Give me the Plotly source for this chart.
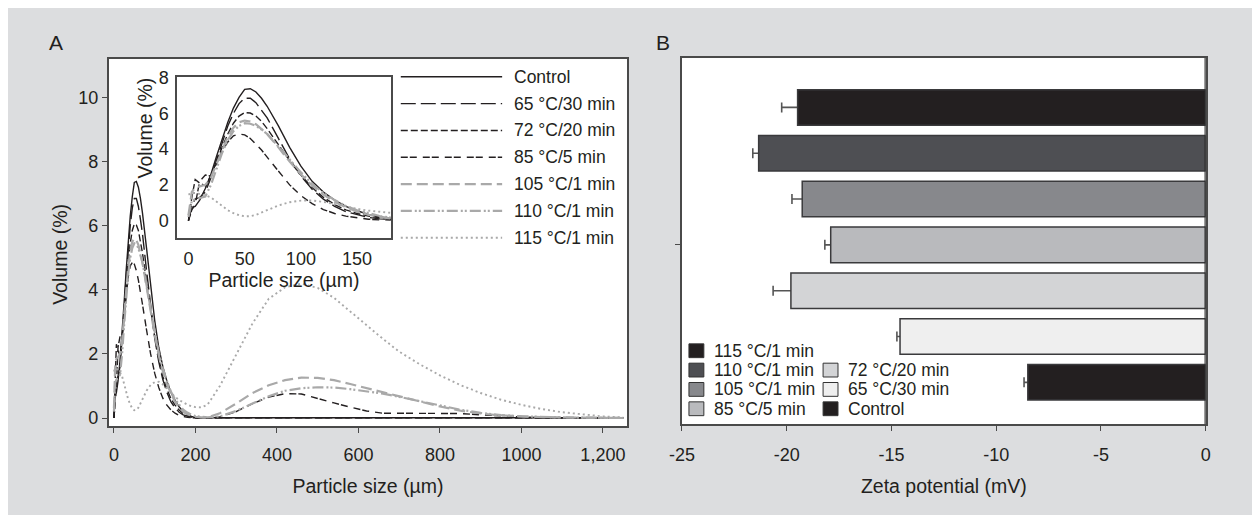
import plotly.graph_objects as go

W, H = 1260, 515
PAGE_OFFSET = 8  # the page puts the figure 8 px from the top-left corner


def fx(px):
    # page x position (px) -> paper fraction, with a small calibration of the page placement
    m = (px - 10.86) / 0.992
    return (m - PAGE_OFFSET) / W


def fy(py):
    m = (py - 6.46) / 0.992
    return 1 - (m - PAGE_OFFSET) / H


# ---------------- Panel A data (volume %) ----------------
size_um = [0, 3, 6, 10, 15, 20, 25, 30, 35, 40, 45, 50, 55, 60, 65, 70, 80, 90, 100, 110,
           120, 130, 140, 150, 160, 170, 180, 190, 200, 215, 230, 260, 300, 340, 380, 420,
           460, 500, 540, 580, 620, 660, 700, 750, 800, 850, 900, 950, 1000, 1050, 1100,
           1150, 1200, 1250]

vol_control = [0.0, 0.75, 0.8, 1.15, 1.8, 2.6, 3.6, 4.6, 5.5, 6.3, 6.9, 7.35, 7.38, 7.2, 6.85,
               6.4, 5.3, 4.1, 3.05, 2.2, 1.6, 1.15, 0.8, 0.55, 0.35, 0.2, 0.12, 0.05, 0.02,
               0.01, 0.01, 0.01, 0.01, 0.01, 0.01, 0.01, 0.01, 0.01, 0.01, 0.01, 0.01, 0.01,
               0.01, 0.01, 0.01, 0.01, 0.01, 0.01, 0.01, 0.01, 0.01, 0.01, 0.01, 0.01]

vol_65_30 = [0.0, 0.9, 1.2, 1.3, 1.6, 2.4, 3.4, 4.4, 5.3, 6.0, 6.55, 6.85, 6.85, 6.6, 6.2,
             5.75, 4.6, 3.45, 2.5, 1.75, 1.2, 0.8, 0.5, 0.32, 0.18, 0.1, 0.05, 0.02, 0.01,
             0.01, 0.01, 0.01, 0.01, 0.01, 0.01, 0.01, 0.01, 0.01, 0.01, 0.01, 0.01, 0.01,
             0.01, 0.01, 0.01, 0.01, 0.01, 0.01, 0.01, 0.01, 0.01, 0.01, 0.01, 0.01]

vol_72_20 = [0.0, 1.3, 2.3, 2.1, 1.95, 2.5, 3.35, 4.15, 4.85, 5.45, 5.85, 6.05, 6.02, 5.85,
             5.55, 5.15, 4.25, 3.35, 2.55, 1.85, 1.3, 0.9, 0.6, 0.4, 0.25, 0.14, 0.07, 0.03,
             0.01, 0.01, 0.01, 0.01, 0.01, 0.01, 0.01, 0.01, 0.01, 0.01, 0.01, 0.01, 0.01,
             0.01, 0.01, 0.01, 0.01, 0.01, 0.01, 0.01, 0.01, 0.01, 0.01, 0.01, 0.01, 0.01]

vol_85_5 = [0.0, 0.6, 0.9, 2.2, 2.55, 2.5, 3.2, 3.9, 4.4, 4.75, 4.85, 4.8, 4.6, 4.3, 3.95,
            3.55, 2.75, 2.0, 1.4, 0.95, 0.62, 0.4, 0.25, 0.15, 0.08, 0.04, 0.02, 0.01, 0.0,
            0.0, 0.0, 0.03, 0.2, 0.45, 0.65, 0.76, 0.75, 0.6, 0.47, 0.34, 0.22, 0.15, 0.15,
            0.15, 0.15, 0.14, 0.1, 0.06, 0.03, 0.01, 0.0, 0.0, 0.0, 0.0]

vol_105_1 = [0.3, 1.6, 1.85, 1.9, 2.0, 2.4, 3.2, 4.0, 4.7, 5.2, 5.5, 5.6, 5.55, 5.4, 5.15,
             4.85, 4.1, 3.3, 2.6, 1.95, 1.45, 1.05, 0.75, 0.5, 0.33, 0.2, 0.12, 0.07, 0.04,
             0.02, 0.02, 0.15, 0.45, 0.78, 1.02, 1.18, 1.26, 1.25, 1.18, 1.06, 0.93, 0.8,
             0.68, 0.53, 0.36, 0.23, 0.14, 0.08, 0.05, 0.03, 0.02, 0.01, 0.01, 0.0]

vol_110_1 = [0.2, 1.1, 1.2, 1.25, 1.35, 2.0, 2.9, 3.8, 4.5, 5.0, 5.3, 5.45, 5.42, 5.3, 5.1,
             4.85, 4.15, 3.4, 2.7, 2.05, 1.55, 1.15, 0.82, 0.58, 0.4, 0.26, 0.17, 0.1, 0.06,
             0.03, 0.02, 0.05, 0.22, 0.45, 0.68, 0.85, 0.93, 0.96, 0.95, 0.9, 0.84, 0.76,
             0.66, 0.53, 0.39, 0.26, 0.16, 0.09, 0.05, 0.03, 0.02, 0.01, 0.01, 0.0]

vol_115_1 = [1.45, 1.55, 1.55, 1.5, 1.42, 1.3, 1.05, 0.8, 0.58, 0.42, 0.3, 0.24, 0.25, 0.32,
             0.45, 0.6, 0.85, 1.03, 1.12, 1.13, 1.05, 0.92, 0.78, 0.66, 0.56, 0.48, 0.42,
             0.37, 0.34, 0.33, 0.42, 1.0, 2.0, 2.95, 3.72, 4.08, 4.19, 4.06, 3.75, 3.32,
             2.87, 2.47, 2.07, 1.68, 1.33, 1.03, 0.78, 0.57, 0.41, 0.28, 0.18, 0.11, 0.05,
             0.02]

series_names = ["Control", "65 °C/30 min", "72 °C/20 min", "85 °C/5 min",
                "105 °C/1 min", "110 °C/1 min", "115 °C/1 min"]
series_values = [vol_control, vol_65_30, vol_72_20, vol_85_5, vol_105_1, vol_110_1, vol_115_1]

x_ticks_a = [0, 200, 400, 600, 800, 1000, 1200]
x_ticktext_a = ["0", "200", "400", "600", "800", "1000", "1,200"]
y_ticks_a = [0, 2, 4, 6, 8, 10]
inset_x_ticks = [0, 50, 100, 150]
inset_y_ticks = [0, 2, 4, 6, 8]

# ---------------- Panel B data (zeta potential, mV) ----------------
treatments = ["Control", "65 °C/30 min", "72 °C/20 min", "85 °C/5 min",
              "105 °C/1 min", "110 °C/1 min", "115 °C/1 min"]
zeta_mv = [-8.49, -14.59, -19.8, -17.9, -19.26, -21.34, -19.48]
zeta_err = [0.18, 0.15, 0.85, 0.28, 0.49, 0.28, 0.76]
x_ticks_b = [-25, -20, -15, -10, -5, 0]
x_ticktext_b = ["-25", "-20", "-15", "-10", "-5", "0"]

# ---------------- styles ----------------
FONT = "Liberation Sans, Arial, Helvetica, sans-serif"
TXT = "#231f20"
AX = "#4a4a4a"
GREY = "#a9a9a9"
line_styles = [
    dict(color="#231f20", width=1.4, dash="solid"),
    dict(color="#231f20", width=1.4, dash="15px,5px"),
    dict(color="#231f20", width=1.4, dash="7px,3px"),
    dict(color="#231f20", width=1.4, dash="7px,2px,7px,6px"),
    dict(color=GREY, width=2.2, dash="11px,5px"),
    dict(color=GREY, width=2.2, dash="11px,3px,2px,2px,2px,3px"),
    dict(color=GREY, width=1.9, dash="2px,3px"),
]
bar_colors = ["#231f20", "#efefef", "#d3d4d6", "#b9babd", "#87888c", "#4e4f53", "#231f20"]

TICK = dict(family=FONT, size=18, color=TXT)
TITLE = dict(family=FONT, size=19.5, color=TXT)
LEG = dict(family=FONT, size=17.5, color=TXT)

fig = go.Figure()

# main curves
for name, vals, st in zip(series_names, series_values, line_styles):
    fig.add_trace(go.Scatter(x=size_um, y=vals, mode="lines", name=name, line=st,
                             xaxis="x", yaxis="y", showlegend=False))
# inset curves (same data, zoomed)
for name, vals, st in zip(series_names, series_values, line_styles):
    fig.add_trace(go.Scatter(x=size_um, y=vals, mode="lines", name=name, line=st,
                             xaxis="x3", yaxis="y3", showlegend=False))

# error bars (drawn under the bars)
fig.add_trace(go.Scatter(x=zeta_mv, y=treatments, mode="markers",
                         marker=dict(size=1, color="rgba(0,0,0,0)"),
                         error_x=dict(type="data", array=zeta_err, symmetric=True,
                                      color="#555555", thickness=1.6, width=5),
                         xaxis="x2", yaxis="y2", showlegend=False, hoverinfo="skip"))
# bars
fig.add_trace(go.Bar(x=zeta_mv, y=treatments, orientation="h", width=0.775,
                     marker=dict(color=bar_colors, line=dict(color="#3a3a3c", width=1.5)),
                     xaxis="x4", yaxis="y4", showlegend=False))

axis_common = dict(showline=True, linecolor=AX, linewidth=1.5, mirror=True,
                   ticks="outside", ticklen=5, tickcolor=AX, tickwidth=1.3,
                   showgrid=False, zeroline=False, tickfont=TICK)

y_range_b = [-0.91, 7.077]

fig.update_layout(
    width=W, height=H,
    margin=dict(l=0, r=0, t=0, b=0),
    paper_bgcolor="#dcdddf",
    plot_bgcolor="white",
    font=dict(family=FONT, color=TXT),
    barmode="overlay",
    xaxis=dict(axis_common, domain=[fx(107), fx(629)], range=[-13, 1260], anchor="y",
               tickvals=x_ticks_a, ticktext=x_ticktext_a, ticklabelstandoff=7,
               title=dict(text="Particle size (µm)", font=TITLE, standoff=15)),
    yaxis=dict(axis_common, domain=[fy(429), fy(57)], range=[-0.25, 11.2], anchor="x",
               tickvals=y_ticks_a),
    xaxis3=dict(axis_common, domain=[fx(176), fx(391)], range=[-10, 180], anchor="y3",
                tickvals=inset_x_ticks, ticks="", ticklen=0, ticklabelstandoff=4,
                title=dict(text="Particle size (µm)", font=TITLE, standoff=4)),
    yaxis3=dict(axis_common, domain=[fy(238), fy(75)], range=[-0.95, 8.05], anchor="x3",
                tickvals=inset_y_ticks, ticks="", ticklen=0, ticklabelstandoff=3),
    xaxis2=dict(axis_common, domain=[fx(684), fx(1211)], range=[-25, 0], anchor="y2",
                tickvals=x_ticks_b, ticktext=x_ticktext_b, ticklabelstandoff=9,
                title=dict(text="Zeta potential (mV)", font=TITLE, standoff=15)),
    yaxis2=dict(axis_common, domain=[fy(427), fy(56)], range=y_range_b, anchor="x2",
                type="category", categoryorder="array", categoryarray=treatments,
                tickvals=[treatments[3]], ticktext=[""]),
    xaxis4=dict(overlaying="x2", range=[-25, 0], visible=False, anchor="y4"),
    yaxis4=dict(overlaying="y2", range=y_range_b, visible=False, anchor="x4",
                type="category", categoryorder="array", categoryarray=treatments),
)

shapes = [
    # dark zero line of panel B
    dict(type="line", xref="x2", yref="y2 domain", x0=0, x1=0, y0=0, y1=1,
         line=dict(color="#2a2a2a", width=2.2)),
]
annotations = [
    dict(text="A", x=fx(54), y=fy(40), xref="paper", yref="paper", showarrow=False,
         xanchor="center", yanchor="middle", font=dict(family=FONT, size=21, color=TXT)),
    dict(text="B", x=fx(665), y=fy(40), xref="paper", yref="paper", showarrow=False,
         xanchor="center", yanchor="middle", font=dict(family=FONT, size=21, color=TXT)),
    # y-axis titles (placed where the reference has them)
    dict(text="Volume (%)", x=fx(58.5), y=fy(255), xref="paper", yref="paper",
         textangle=-90, showarrow=False, xanchor="center", yanchor="middle", font=TITLE),
    dict(text="Volume (%)", x=fx(144), y=fy(127), xref="paper", yref="paper",
         textangle=-90, showarrow=False, xanchor="center", yanchor="middle", font=TITLE),
]

# legend of panel A (line samples + labels)
for i, (name, st) in enumerate(zip(series_names, line_styles)):
    row = 75 + 27.2 * i
    shapes.append(dict(type="line", xref="paper", yref="paper", x0=fx(401), x1=fx(503),
                       y0=fy(row), y1=fy(row), line=st))
    annotations.append(dict(text=name, x=fx(513), y=fy(row), xref="paper", yref="paper",
                            xanchor="left", yanchor="middle", showarrow=False, font=LEG))

# legend of panel B (two columns, second column starts one row lower)
legend_b = [(6, 0, 0), (5, 0, 1), (4, 0, 2), (3, 0, 3), (2, 1, 1), (1, 1, 2), (0, 1, 3)]
col_x = [691, 826]
for idx, col, r in legend_b:
    row = 352.7 + 19.6 * r
    x0 = col_x[col]
    shapes.append(dict(type="rect", xref="paper", yref="paper", x0=fx(x0), x1=fx(x0 + 15),
                       y0=fy(row + 7), y1=fy(row - 7), fillcolor=bar_colors[idx],
                       line=dict(color="#333333", width=1)))
    annotations.append(dict(text=treatments[idx], x=fx(x0 + 23), y=fy(row), xref="paper",
                            yref="paper", xanchor="left", yanchor="middle", showarrow=False,
                            font=LEG))

fig.update_layout(shapes=shapes, annotations=annotations)
fig.write_html("out.html", config={"displayModeBar": False})
